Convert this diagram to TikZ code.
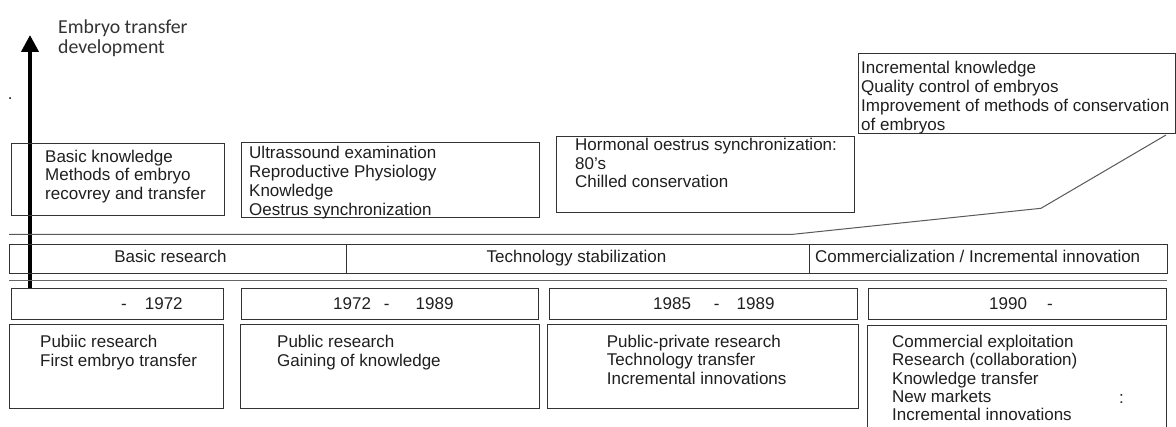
\documentclass[tikz,border=0pt]{standalone}
\usepackage{fontspec}
\setmainfont{Liberation Sans}
\newfontfamily\calfont{Carlito}
\usetikzlibrary{arrows.meta,calc}
\begin{document}
\begin{tikzpicture}[x=1pt,y=-1pt,
  box/.style={draw=black!80, line width=0.9pt, inner sep=0pt, anchor=north west},
  boxline/.style={draw=black!80, line width=0.9pt},
  txt/.style={font=\fontsize{17}{18.5}\selectfont, text=black!88, align=left, inner sep=0pt, anchor=base west},
  rulel/.style={draw=black!60, line width=1.5pt},
  slant/.style={draw=black!65, line width=1pt}]
\useasboundingbox[fill=white] (0,0) rectangle (1176,427);

% vertical arrow and its label (base anchor = baseline of last line)
\coordinate (abase) at (30,288);
\coordinate (atip) at (30,35);
\draw[line width=4pt, -{Triangle[length=17pt,width=17pt]}] (abase) -- (atip);
\node[inner sep=0pt, anchor=base west, align=left, text=black!80,
      font=\calfont\fontsize{19.8}{20}\selectfont] (lab) at (58,53.3) {Embryo transfer\\development};
\node[txt] (dot) at (7.6,99.5) {.};

% upper boxes
\node[box, minimum width=213.3pt, minimum height=71.7pt] (b1) at (10.7,143.3) {};
\node[txt, font=\fontsize{17}{18.3}\selectfont] (t1) at (45,199.3) {Basic knowledge\\Methods of embryo\\recovrey and transfer};
\node[box, minimum width=298pt, minimum height=75pt] (b2) at (241,141.7) {};
\node[txt, font=\fontsize{17}{18.7}\selectfont] (t2) at (249,215.1) {Ultrassound examination\\Reproductive Physiology\\Knowledge\\Oestrus synchronization};
\node[box, minimum width=298pt, minimum height=76.3pt] (b3) at (556,135.7) {};
\node[txt] (t3) at (575,188) {Hormonal oestrus synchronization:\\80's\\Chilled conservation};
\node[box, minimum width=316.8pt, minimum height=80pt] (b4) at (857.7,53) {};
\node[txt, font=\fontsize{17}{19}\selectfont] (t4) at (861,131) {Incremental knowledge\\Quality control of embryos\\Improvement of methods of conservation\\of embryos};

% rule with slanted end
\coordinate (r1) at (9,234.3);
\coordinate (r2) at (793,234.3);
\coordinate (r3) at (1041,208.3);
\coordinate (r4) at (1166,135);
\draw[slant] (r1) -- (r2) -- (r3) -- (r4);

% phase bar
\node[box, minimum width=336.4pt, minimum height=29pt] (p1) at (9.3,244) {};
\node[box, minimum width=463pt, minimum height=29pt] (p2) at (345.7,244) {};
\node[box, minimum width=358.3pt, minimum height=29pt] (p3) at (808.7,244) {};
\node[txt, anchor=base] (pt1) at (170.5,262.7) {Basic research};
\node[txt, anchor=base] (pt2) at (576.5,262.7) {Technology stabilization};
\node[txt] (pt3) at (815,262.7) {Commercialization / Incremental innovation};

\coordinate (s1) at (9,280.3);
\coordinate (s2) at (1167,280.3);
\draw[rulel] (s1) -- (s2);

% year boxes
\node[box, minimum width=212pt, minimum height=31pt] (y1) at (10.7,288.3) {};
\node[box, minimum width=297.3pt, minimum height=31pt] (y2) at (241,288.3) {};
\node[box, minimum width=307.4pt, minimum height=31pt] (y3) at (549.3,288.3) {};
\node[box, minimum width=298.3pt, minimum height=31pt] (y4) at (867.7,288.3) {};
\node[txt] (yt1) at (121,310) {-\hspace{18pt}1972};
\node[txt] (yt2) at (333,310) {1972\hspace{13pt}-\hspace{26pt}1989};
\node[txt] (yt3) at (653,310) {1985\hspace{23pt}-\hspace{17pt}1989};
\node[txt] (yt4) at (989,310) {1990\hspace{20pt}-};

% content boxes
\node[box, minimum width=213.7pt, minimum height=83.4pt] (c1) at (9,324.3) {};
\node[box, minimum width=299pt, minimum height=83.4pt] (c2) at (240,324.3) {};
\node[box, minimum width=311pt, minimum height=83.4pt] (c3) at (546.7,324.3) {};
\coordinate (c4a) at (867,428);
\coordinate (c4b) at (867,325);
\coordinate (c4c) at (1166,325);
\coordinate (c4d) at (1166,428);
\draw[boxline] (c4a) -- (c4b) -- (c4c) -- (c4d);
\node[txt, font=\fontsize{17}{19.3}\selectfont] (ct1) at (40,367) {Pubiic research\\First embryo transfer};
\node[txt, font=\fontsize{17}{19.3}\selectfont] (ct2) at (277,367) {Public research\\Gaining of knowledge};
\node[txt, font=\fontsize{17}{18.2}\selectfont] (ct3) at (606.7,384.1) {Public-private research\\Technology transfer\\Incremental innovations};
\node[txt, font=\fontsize{17}{18.3}\selectfont] (ct4) at (892,420.9) {Commercial exploitation\\Research (collaboration)\\Knowledge transfer\\New markets\\Incremental innovations};
\node[txt] (colon) at (1119,403.3) {:};
\end{tikzpicture}
\end{document}
